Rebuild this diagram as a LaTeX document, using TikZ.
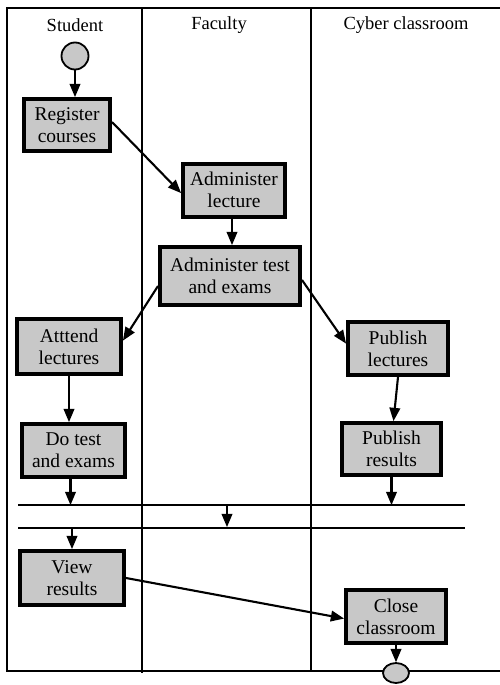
\documentclass[tikz,border=0pt]{standalone}
\usepackage{fontspec}
\setmainfont{Liberation Serif}
\usepackage{tikz}
\usetikzlibrary{shapes.geometric,arrows}
\definecolor{activityColor}{HTML}{C8C8C8}
\tikzstyle{activity} = [rectangle, draw=black, line width=4pt, fill=activityColor, inner sep=0pt, align=center, font=\fontsize{19.5}{22}\selectfont]
\tikzstyle{header} = [font=\fontsize{18.5}{21}\selectfont]
\tikzstyle{lane} = [line width=2.2pt]
\tikzstyle{state} = [draw=black, line width=1.8pt, fill=activityColor]
\tikzstyle{arrow} = [->, >=triangle 45, line width=2.1pt]

\begin{document}
\begin{tikzpicture}[x=1pt, y=-1pt]
			\useasboundingbox (0,0) rectangle (500,685);
			
			% swimlanes
			\draw [lane] (500,8) -- (7,8) -- (7,671) -- (500,671);
			\draw [lane] (142,8) -- (142,673);
			\draw [lane] (311,8) -- (311,672);
			\node (student) [header] at (75,25) {Student};
			\node (faculty) [header] at (219,25) {Faculty};
			\node (cyber) [header] at (406,25) {Cyber classroom};
			
			\node (start) [state, circle, minimum size=27pt, inner sep=0pt] at (75,56) {};
			
			\node (Register courses) [activity, minimum width=86pt, minimum height=52pt] at (67,125) {Register\\courses};
			\node (Administer lecture) [activity, minimum width=102pt, minimum height=53pt] at (234,190) {Administer\\lecture};
			\node (Administer test) [activity, minimum width=140pt, minimum height=58pt] at (230,276) {Administer test\\and exams};
			
			\node (Attend lectures) [activity, minimum width=104pt, minimum height=55pt] at (69,346.5) {Atttend\\lectures};
			\node (Do test) [activity, minimum width=103pt, minimum height=53pt] at (73.5,450.5) {Do test\\and exams};
			
			\node (Publish lectures) [activity, minimum width=100pt, minimum height=53pt] at (398,348.5) {Publish\\lectures};
			\node (Publish results) [activity, minimum width=99pt, minimum height=52pt] at (391.5,449) {Publish\\results};
			
			% synchronisation bars
			\draw [lane] (18,505) -- (465,505);
			\draw [lane] (18,528) -- (465,528);
			\coordinate (fork top) at (227,505);
			\coordinate (fork bottom) at (227,527);
			
			\node (View results) [activity, minimum width=104pt, minimum height=54pt] at (72,578) {View\\results};
			\node (Close classroom) [activity, minimum width=100pt, minimum height=53pt] at (396,616.5) {Close\\classroom};
			
			\node (end) [state, ellipse, minimum width=26pt, minimum height=20pt, inner sep=0pt] at (396,673) {};
			
			
			\draw [arrow] (start) -- (start |- Register courses.north);
			\draw [arrow] ([yshift=3pt]Register courses.east) -- ([yshift=-3pt]Administer lecture.west);
			\draw [arrow] ([xshift=-2pt]Administer lecture.south) -- ([xshift=-2pt]Administer lecture.south |- Administer test.north);
			\draw [arrow] ([yshift=-10pt]Administer test.west) -- ([yshift=6pt]Attend lectures.east);
			\draw [arrow] ([yshift=-4pt]Administer test.east) -- ([yshift=5pt]Publish lectures.west);
			\draw [arrow] (Attend lectures) -- (Attend lectures |- Do test.north);
			\draw [arrow] (Publish lectures.south) -- ([xshift=2pt]Publish results.north);
			\draw [arrow] ([xshift=-3pt]Do test.south) -- ([xshift=-3pt]Do test.south |- fork top);
			\draw [arrow] (Publish results.south) -- (Publish results.south |- fork top);
			\draw [arrow] (fork top) -- (fork bottom);
			\draw [arrow] (fork bottom -| View results) -- (View results.north);
			\draw [arrow] (View results.east) -- ([yshift=-2pt]Close classroom.west);
			\draw [arrow] (Close classroom) -- (end);
			
\end{tikzpicture}
\end{document}
